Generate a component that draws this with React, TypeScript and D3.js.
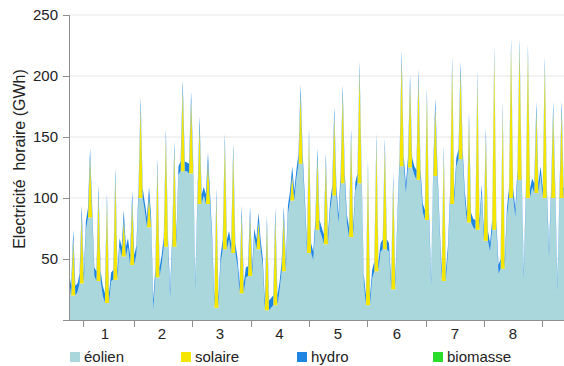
import React, { useEffect } from 'react';
import * as d3 from 'd3';

// ---- data (GWh), one entry per day; hours of the day samples ----
const sampleHours = [1, 7, 13, 19];
const windNight = [32,23,74,36,20,32,60,60,54,89,8,46,18,119,122,24,102,62,46,66,44,35,68,44,10,24,87,116,94,49,69,89,79,79,106,31,34,56,56,79,104,119,89,28,74,54,126,99,76,104,56,38,84,84,33,109,119,52,23,109];
const windDay = [20,30,84,32,14,33,52,45,100,76,35,60,60,122,120,95,95,10,58,55,22,36,58,8,12,40,98,128,55,74,62,102,112,68,112,12,40,58,25,126,125,115,82,118,32,95,132,80,74,65,74,42,100,115,100,104,100,100,100];
const solarPeak = [46,56,49,71,82,84,30,53,75,25,90,89,79,67,59,64,34,90,87,82,64,49,22,69,72,45,20,57,94,59,67,65,73,81,92,111,105,83,87,87,68,83,100,56,103,113,72,82,122,85,142,128,123,108,118,67,108,71,72];
const hydroNight = [7,7,7,7,8,7,7,7,7,7,8,7,7,7,7,7,7,7,7,7,7,8,7,7,8,7,7,7,7,7,7,7,7,7,7,7,7,7,7,7,7,7,7,7,7,7,7,7,7,7,7,7,7,7,7,7,7,7,7,7];
const hydroDay = [8,8,8,8,8,8,8,8,8,8,8,8,8,8,8,8,8,8,8,8,8,8,8,8,8,8,8,8,8,8,8,8,8,8,8,8,8,8,8,8,8,8,8,8,8,8,8,8,8,8,8,8,8,8,8,8,8,8,8];

const yTicks = [0, 50, 100, 150, 200, 250];
const weekTickDays = [1.66, 7.75, 14.67, 21.61, 28.53, 35.46, 42.39, 49.31, 56.24];
const weekLabelDays = [4.31, 11.08, 17.96, 25.03, 31.98, 38.98, 45.87, 52.76];
const weekLabels = ['1', '2', '3', '4', '5', '6', '7', '8'];

const seriesKeys = ['eolien', 'solaire', 'hydro'];
const legendNames = ['éolien', 'solaire', 'hydro', 'biomasse'];
const colors: Record<string, string> = {
  eolien: '#a9d7db',
  solaire: '#f4e600',
  hydro: '#1f85e3',
  biomasse: '#2bdc2b',
};
const legendKeys = ['eolien', 'solaire', 'hydro', 'biomasse'];

type Row = { t: number; eolien: number; solaire: number; hydro: number };

function buildRows(): Row[] {
  const rows: Row[] = [];
  for (let n = 0; n < windDay.length; n++) {
    sampleHours.forEach((h, i) => {
      if (i === 0) {
        rows.push({ t: n + h / 24, eolien: windNight[n], solaire: 0, hydro: hydroNight[n] });
      } else {
        rows.push({
          t: n + h / 24,
          eolien: windDay[n],
          solaire: i === 2 ? solarPeak[n] : 0,
          hydro: hydroDay[n],
        });
      }
    });
  }
  const last = windDay.length;
  rows.push({ t: last + sampleHours[0] / 24, eolien: windNight[last], solaire: 0, hydro: hydroNight[last] });
  return rows;
}

const FONT = '"Liberation Sans", Arial, Helvetica, sans-serif';

export default function App() {
  useEffect(() => {
    document.body.style.margin = '0';
  }, []);

  const W = 564, H = 366;
  const left = 69, right = 564, top = 15, bottom = 320;
  const x = d3.scaleLinear().domain([0, 58.8]).range([68.7, 563.8]);
  const y = d3.scaleLinear().domain([0, 250]).range([bottom, top]);

  const rows = buildRows();
  const stacked = d3.stack<Row>().keys(seriesKeys)(rows);
  const area = d3
    .area<d3.SeriesPoint<Row>>()
    .x((d) => x(d.data.t))
    .y0((d) => y(d[0]))
    .y1((d) => y(d[1]))
    .curve(d3.curveLinear);

  const legendX = [70, 181, 297, 433];

  return (
    <div style={{ position: 'absolute', left: 0, top: 0 }}>
      <svg width={W} height={H} style={{ display: 'block', background: '#fff' }} fontFamily={FONT}>
        <defs>
          <clipPath id="plotClip">
            <rect x={left} y={0} width={right - left} height={bottom} />
          </clipPath>
        </defs>
        {yTicks.filter((v) => v > 0).map((v) => (
          <line key={'g' + v} x1={left} x2={right} y1={y(v)} y2={y(v)} stroke="#e6e6e6" strokeWidth={1} />
        ))}
        <g clipPath="url(#plotClip)">
          {stacked.map((s) => (
            <path key={s.key} d={area(s) || ''} fill={colors[s.key]} stroke="none" />
          ))}
        </g>
        {/* y axis */}
        <line x1={left + 0.5} x2={left + 0.5} y1={top} y2={bottom + 1} stroke="#8f8f8f" strokeWidth={1} />
        {yTicks.map((v) => (
          <g key={'yt' + v}>
            <line x1={left - 6} x2={left} y1={Math.round(y(v)) + 0.5} y2={Math.round(y(v)) + 0.5} stroke="#8f8f8f" />
            {v > 0 && (
              <text x={58} y={y(v)} dy="0.36em" textAnchor="end" fontSize={15} fill="#222">
                {v}
              </text>
            )}
          </g>
        ))}
        {/* x axis */}
        <line x1={left} x2={right} y1={bottom + 0.5} y2={bottom + 0.5} stroke="#8f8f8f" strokeWidth={1} />
        {weekTickDays.map((d, i) => (
          <line key={'xt' + i} x1={Math.round(x(d)) + 0.5} x2={Math.round(x(d)) + 0.5} y1={bottom} y2={bottom + 7} stroke="#8f8f8f" />
        ))}
        {weekLabelDays.map((d, i) => (
          <text key={'xl' + i} x={x(d)} y={339} textAnchor="middle" fontSize={15} fill="#222">
            {weekLabels[i]}
          </text>
        ))}
        {/* y title */}
        <text
          transform={`translate(25, 159) rotate(-90)`}
          textAnchor="middle"
          fontSize={16}
          fill="#222"
          style={{ whiteSpace: 'pre' }}
        >
          {'Electricité  horaire (GWh)'}
        </text>
        {/* legend */}
        {legendKeys.map((k, i) => (
          <g key={'lg' + k}>
            <rect x={legendX[i]} y={352} width={10} height={10} fill={colors[k]} />
            <text x={legendX[i] + 14} y={362} fontSize={15} fill="#222">
              {legendNames[i]}
            </text>
          </g>
        ))}
      </svg>
    </div>
  );
}
